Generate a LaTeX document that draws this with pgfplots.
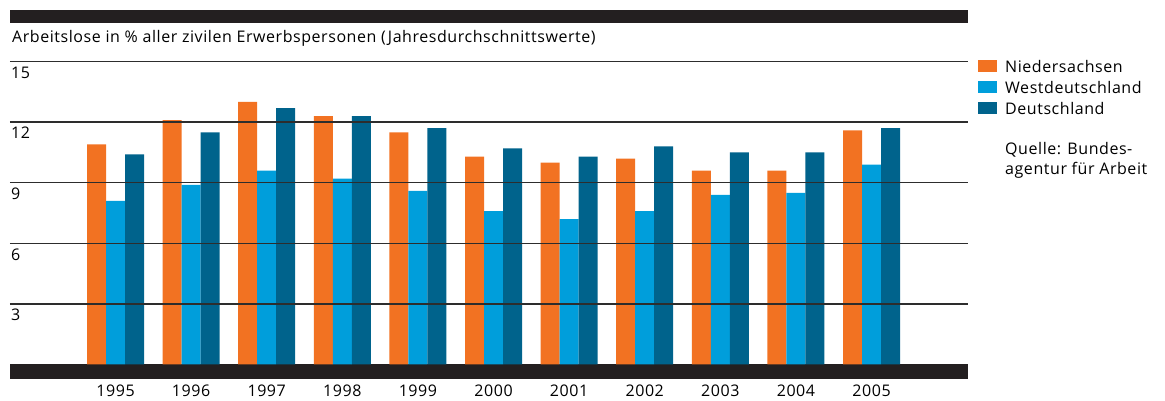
\documentclass[border=0pt]{standalone}
\usepackage{fontspec}
\setmainfont{Open Sans}[LetterSpace=3.5]
\usepackage{pgfplots}
\pgfplotsset{compat=1.18}
\definecolor{cN}{RGB}{242,114,34}
\definecolor{cW}{RGB}{0,158,219}
\definecolor{cD}{RGB}{0,99,140}
\definecolor{gridc}{RGB}{45,45,45}
\definecolor{barblack}{RGB}{35,31,32}
\newcommand{\fs}{\fontsize{16}{19}\selectfont}
\begin{document}
\begin{tikzpicture}[x=1pt,y=1pt]
\useasboundingbox (0,0) rectangle (1165,401);
\begin{axis}[
  at={(10pt,22pt)}, anchor=south west,
  scale only axis, width=958pt, height=369pt,
  xmin=-1.3955, xmax=11.276, ymin=-0.72, ymax=17.557,
  axis line style={draw=none},
  major tick length=0pt,
  ybar=0pt, bar width=19pt,
  xtick={0,...,10},
  xticklabels={1995,1996,1997,1998,1999,2000,2001,2002,2003,2004,2005},
  ytick={3,6,9,12,15},
  ymajorgrids, grid style={draw=gridc, line width=1.4pt},
  axis on top,
  font=\fs,
  /pgf/number format/assume math mode=true,
  yticklabel style={anchor=north west, xshift=1pt, yshift=-5pt, inner sep=0pt},
  xticklabel style={anchor=base, yshift=-18pt, inner sep=0pt},
  legend image code/.code={\fill[#1] (0pt,0pt) rectangle (19pt,12pt);},
  legend style={draw=none, fill=none, inner sep=0pt, at={(rel axis cs:1.0104,0.8645)}, anchor=north west,
    row sep=5pt, nodes={inner sep=0pt, anchor=base west, text height=11pt, text depth=4pt},
    font=\fs},
  legend cell align=left,
  /tikz/every odd column/.style={column sep=8pt},
]
\fill[barblack] (axis cs:-1.3955,-0.72) rectangle (axis cs:11.276,0);
\fill[barblack] (axis cs:-1.3955,16.91) rectangle (axis cs:11.276,17.557);
\addplot[draw=none, fill=cN] coordinates {(0,10.9) (1,12.1) (2,13.0) (3,12.3) (4,11.5) (5,10.3) (6,10.0) (7,10.2) (8,9.6) (9,9.6) (10,11.6)};
\addplot[draw=none, fill=cW] coordinates {(0,8.1) (1,8.9) (2,9.6) (3,9.2) (4,8.6) (5,7.6) (6,7.2) (7,7.6) (8,8.4) (9,8.5) (10,9.9)};
\addplot[draw=none, fill=cD] coordinates {(0,10.4) (1,11.5) (2,12.7) (3,12.3) (4,11.7) (5,10.7) (6,10.3) (7,10.8) (8,10.5) (9,10.5) (10,11.7)};
\legend{Niedersachsen,Westdeutschland,Deutschland}
\end{axis}
\node[anchor=base west, inner sep=0pt, font=\fs] at (12,358) {Arbeitslose in \% aller zivilen Erwerbspersonen (Jahresdurchschnittswerte)};
\node[anchor=base west, inner sep=0pt, align=left, font=\fontsize{16}{20}\selectfont] at (1005,226) {Quelle: Bundes-\\agentur für Arbeit};
\end{tikzpicture}
\end{document}
